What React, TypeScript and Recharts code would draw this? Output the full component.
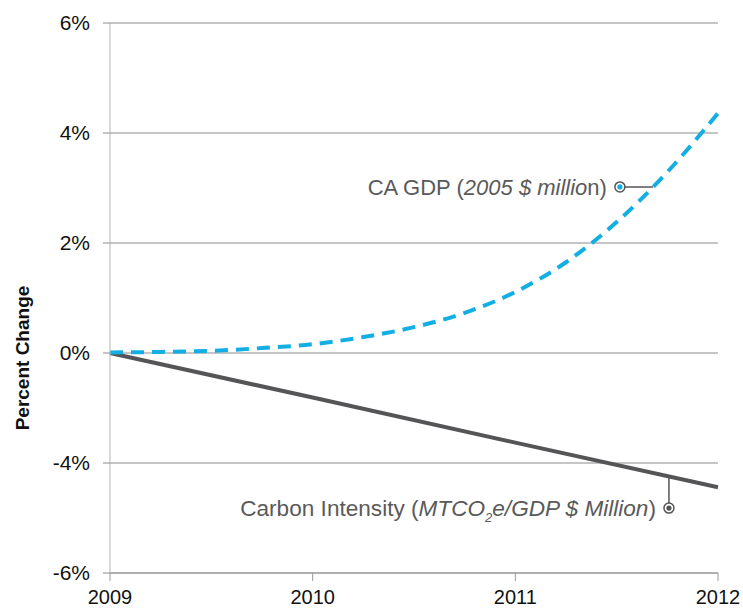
import React from "react";
import { LineChart, Line, XAxis, YAxis, CartesianGrid, ReferenceLine, ReferenceDot } from "recharts";

const gdpYears = [2009, 2009.25, 2009.5, 2009.75, 2010, 2010.25, 2010.5, 2010.75, 2011, 2011.25, 2011.5, 2011.75, 2012];
const gdpValues = [0.01, 0.02, 0.04, 0.09, 0.16, 0.29, 0.47, 0.73, 1.11, 1.65, 2.38, 3.29, 4.36];

const carbonYears = [2009, 2010, 2011, 2012];
const carbonValues = [0, -0.81, -1.63, -2.44];

const yearTicks = [2009, 2010, 2011, 2012];
const yTicks = [-4, -2, 0, 2, 4, 6];
// labels exactly as printed on the original axis
const yTickLabels = ["-6%", "-4%", "0%", "2%", "4%", "6%"];

const gdpData = gdpYears.map((year, i) => ({ year, value: gdpValues[i] }));
const carbonData = carbonYears.map((year, i) => ({ year, value: carbonValues[i] }));

const FONT = "'Liberation Sans', Arial, Helvetica, sans-serif";
const GDP_COLOR = "#13aee3";
const CARBON_COLOR = "#555557";
const NOTE_COLOR = "#5a5a5a";

const Marker = ({ cx, cy, fill }: { cx?: number; cy?: number; fill: string }) => (
  <g>
    <circle cx={cx} cy={cy} r={5} fill="#fff" stroke="#555" strokeWidth={1.5} />
    <circle cx={cx} cy={cy} r={2.6} fill={fill} />
  </g>
);

const GdpNote = (props: any) => (
  <g>
    <text x={props.cx - 13} y={props.cy} dy="0.35em" textAnchor="end" fontSize={22} fill={NOTE_COLOR} fontFamily={FONT}>
      CA GDP (<tspan fontStyle="italic">2005 $ millio</tspan>n)
    </text>
    <Marker cx={props.cx} cy={props.cy} fill={GDP_COLOR} />
  </g>
);

const CarbonNote = (props: any) => (
  <g>
    <text x={props.cx - 13} y={props.cy} dy="0.35em" textAnchor="end" fontSize={22.6} fill={NOTE_COLOR} fontFamily={FONT}>
      Carbon Intensity (<tspan fontStyle="italic">MTCO</tspan>
      <tspan fontStyle="italic" fontSize={13} dy="6">2</tspan>
      <tspan fontStyle="italic" dy="-6">e/GDP $ Million</tspan>)
    </text>
    <Marker cx={props.cx} cy={props.cy} fill="#555" />
  </g>
);

const YLabel = () => (
  <text x={22} y={358} transform="rotate(-90 22 358)" textAnchor="middle" dominantBaseline="central"
    fontSize={19} fontWeight="bold" fill="#111" fontFamily={FONT}>
    Percent Change
  </text>
);

export default function App() {
  return (
    <div style={{ position: "absolute", left: 0, top: 0 }}>
      <LineChart width={743} height={611} margin={{ top: 23, right: 25, bottom: 0, left: 0 }}>
        <CartesianGrid vertical={false} stroke="#8c8c8c" strokeWidth={1.2} />
        <XAxis
          type="number"
          dataKey="year"
          domain={[2009, 2012]}
          ticks={yearTicks}
          height={38}
          tickSize={8}
          tickMargin={9}
          axisLine={{ stroke: "#9a9a9a" }}
          tickLine={{ stroke: "#9a9a9a" }}
          tick={{ fill: "#111", fontSize: 20, fontFamily: FONT }}
        />
        <YAxis
          type="number"
          dataKey="value"
          domain={[-4, 6]}
          ticks={yTicks}
          width={110}
          tickSize={7}
          tickMargin={13}
          tickFormatter={(v: number) => yTickLabels[yTicks.indexOf(v)]}
          axisLine={{ stroke: "#b5b5b5" }}
          tickLine={{ stroke: "#8c8c8c" }}
          tick={{ fill: "#111", fontSize: 21, fontFamily: FONT }}
          label={<YLabel />}
        />
        <Line
          data={carbonData}
          dataKey="value"
          type="linear"
          stroke={CARBON_COLOR}
          strokeWidth={4}
          dot={false}
          isAnimationActive={false}
        />
        <Line
          data={gdpData}
          dataKey="value"
          type="monotone"
          stroke={GDP_COLOR}
          strokeWidth={4}
          strokeDasharray="13 8"
          dot={false}
          isAnimationActive={false}
        />
        <ReferenceLine segment={[{ x: 2011.52, y: 3.02 }, { x: 2011.68, y: 3.02 }]} stroke="#555" strokeWidth={1.5} />
        <ReferenceLine segment={[{ x: 2011.758, y: -2.82 }, { x: 2011.758, y: -2.243 }]} stroke="#555" strokeWidth={1.5} />
        <ReferenceDot x={2011.516} y={3.02} shape={GdpNote} />
        <ReferenceDot x={2011.758} y={-2.82} shape={CarbonNote} />
      </LineChart>
    </div>
  );
}
